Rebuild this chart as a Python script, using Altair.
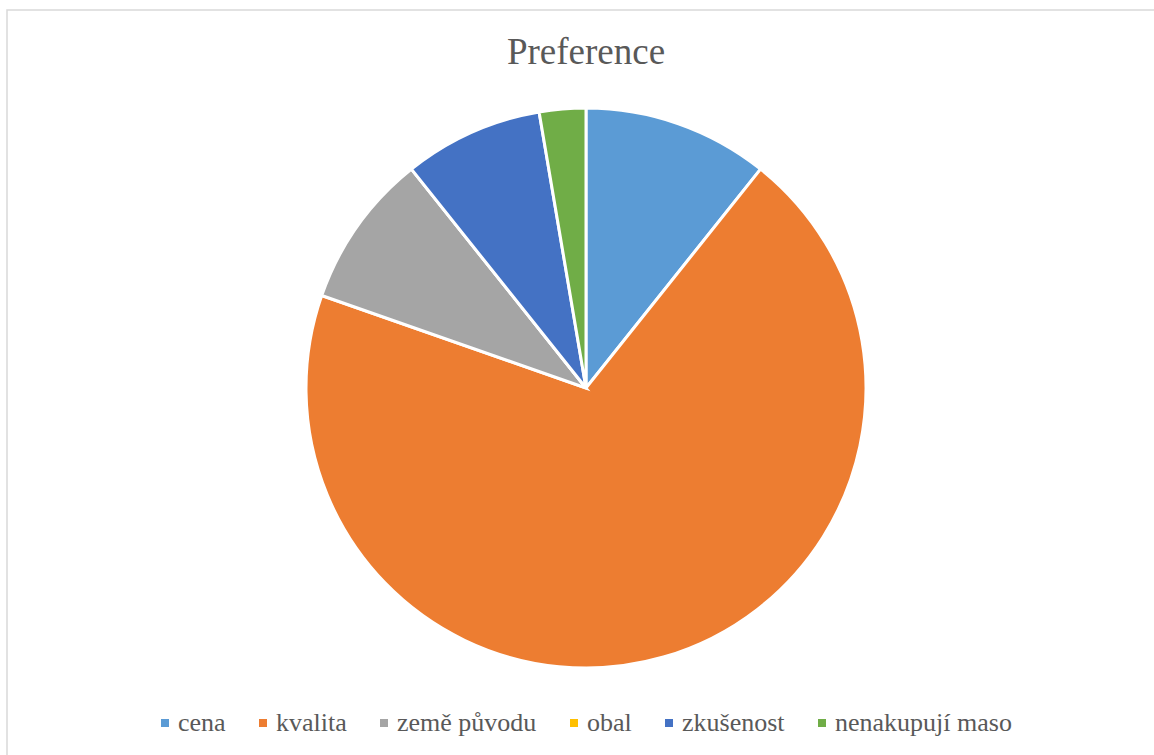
import altair as alt
import pandas as pd

categories = ["cena", "kvalita", "země původu", "obal", "zkušenost", "nenakupují maso"]
values = [12, 78, 10, 0, 9, 3]
colors = ["#5B9BD5", "#ED7D31", "#A5A5A5", "#FFC000", "#4472C4", "#70AD47"]
title_text = "Preference"

df = pd.DataFrame({"kategorie": categories, "pocet": values, "poradi": list(range(len(categories)))})

W, H = 1154, 755
CX, CY, R = 586, 388, 280

frame = alt.Chart(pd.DataFrame({"a": [0]})).mark_rect(
    fill="white", stroke="#D9D9D9", strokeWidth=1.5
).encode(
    x=alt.value(7), x2=alt.value(W + 20), y=alt.value(10), y2=alt.value(H + 20)
)

pie = alt.Chart(df).mark_arc(radius=R, stroke="white", strokeWidth=3).encode(
    theta=alt.Theta("pocet:Q", stack=True),
    order=alt.Order("poradi:Q"),
    color=alt.Color(
        "kategorie:N",
        scale=alt.Scale(domain=categories, range=colors),
        legend=alt.Legend(
            title=None,
            orient="none",
            legendX=150,
            legendY=710,
            direction="horizontal",
        ),
    ),
    x=alt.value(CX),
    y=alt.value(CY),
)

title = alt.Chart(pd.DataFrame({"t": [title_text]})).mark_text(
    font="Liberation Serif", fontSize=37, color="#595959", baseline="alphabetic", align="center"
).encode(
    text="t:N", x=alt.value(CX), y=alt.value(64)
)

chart = alt.layer(frame, pie, title).properties(
    width=W, height=H, padding=0, autosize=alt.AutoSizeParams(type="none")
).configure_view(stroke=None).configure_legend(
    symbolType="square",
    symbolSize=64,
    symbolStrokeWidth=0,
    symbolOffset=2,
    labelFont="Liberation Serif",
    labelFontSize=26,
    labelColor="#595959",
    labelOffset=0,
    columnPadding=22,
    labelLimit=400,
)

chart.save("out.html", embed_options={"renderer": "svg", "actions": False})
